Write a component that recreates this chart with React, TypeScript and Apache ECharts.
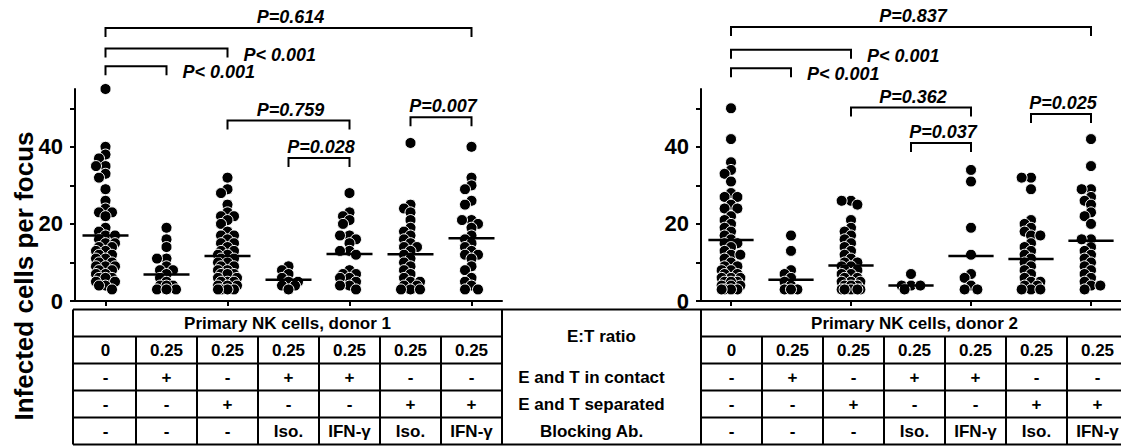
import React, { useEffect, useRef } from 'react';
import * as echarts from 'echarts';

const FONT = "'Liberation Sans', Arial, Helvetica, sans-serif";

// ---------- data ----------
const conditions = ['E:T 0', 'contact', 'separated', 'contact Iso.', 'contact IFN-γ', 'separated Iso.', 'separated IFN-γ'];

const donor1Group1 = [55, 40, 38, 37, 35, 35, 33, 32, 29, 26, 24, 23, 23, 22, 19, 18, 17, 17, 16, 15, 15, 14, 14, 13, 13, 12, 12, 11, 11, 10, 10, 9, 9, 9, 8, 8, 7, 7, 6, 6, 6, 5, 5, 4, 4, 3];
const donor1Group2 = [19, 16, 14, 11, 11, 9, 8, 8, 7, 6, 5, 4, 4, 4, 3, 3, 3];
const donor1Group3 = [32, 29, 28, 25, 23, 22, 22, 21, 20, 18, 17, 17, 16, 15, 15, 14, 13, 13, 12, 12, 11, 11, 10, 10, 9, 9, 8, 8, 7, 7, 7, 6, 6, 5, 5, 5, 4, 4, 4, 3, 3, 3, 3];
const donor1Group4 = [9, 8, 7, 6, 5, 5, 4, 4, 3];
const donor1Group5 = [28, 23, 22, 21, 20, 17, 17, 16, 15, 13, 13, 12, 8, 7, 7, 6, 6, 5, 4, 4, 3];
const donor1Group6 = [41, 25, 24, 23, 21, 19, 18, 17, 16, 15, 14, 14, 13, 12, 11, 10, 9, 8, 7, 6, 5, 5, 4, 4, 3, 3, 3];
const donor1Group7 = [40, 32, 30, 29, 26, 25, 21, 21, 20, 19, 17, 16, 15, 14, 13, 12, 12, 11, 9, 8, 6, 5, 4, 3, 3];

const donor2Group1 = [50, 42, 36, 34, 33, 31, 28, 27, 27, 25, 24, 24, 22, 21, 20, 19, 18, 17, 16, 15, 15, 14, 13, 12, 12, 11, 10, 9, 9, 8, 8, 7, 7, 6, 6, 6, 5, 5, 5, 4, 4, 4, 3, 3, 3, 3];
const donor2Group2 = [17, 13, 8, 7, 6, 5, 4, 3, 3, 3];
const donor2Group3 = [26, 26, 25, 21, 19, 18, 17, 16, 15, 14, 13, 12, 11, 10, 10, 9, 9, 8, 8, 7, 7, 6, 6, 5, 5, 5, 4, 4, 4, 3, 3, 3, 3, 3];
const donor2Group4 = [7, 4, 4, 4, 3];
const donor2Group5 = [34, 31, 19, 12, 7, 6, 4, 3, 3];
const donor2Group6 = [32, 32, 29, 21, 20, 19, 18, 17, 17, 15, 14, 13, 12, 11, 10, 9, 8, 7, 6, 5, 5, 4, 4, 3, 3, 3];
const donor2Group7 = [42, 35, 29, 29, 27, 26, 25, 23, 22, 20, 16, 16, 14, 13, 12, 11, 10, 9, 8, 7, 6, 5, 4, 4, 3];

const donor1Means = [17.0, 6.9, 11.7, 5.5, 12.2, 12.1, 16.3];
const donor2Means = [15.8, 5.5, 9.2, 4.0, 11.7, 10.9, 15.6];

const donor1Brackets = [
  { from: 0, to: 6, level: 70.8, label: 'P=0.614', place: 'top' },
  { from: 0, to: 2, level: 65.5, label: 'P< 0.001', place: 'right' },
  { from: 0, to: 1, level: 60.9, label: 'P< 0.001', place: 'right' },
  { from: 2, to: 4, level: 46.8, label: 'P=0.759', place: 'top' },
  { from: 3, to: 4, level: 37.1, label: 'P=0.028', place: 'top' },
  { from: 5, to: 6, level: 47.7, label: 'P=0.007', place: 'top' },
];
const donor2Brackets = [
  { from: 0, to: 6, level: 71.1, label: 'P=0.837', place: 'top' },
  { from: 0, to: 2, level: 65.2, label: 'P< 0.001', place: 'right' },
  { from: 0, to: 1, level: 60.4, label: 'P< 0.001', place: 'right' },
  { from: 2, to: 4, level: 50.2, label: 'P=0.362', place: 'top' },
  { from: 3, to: 4, level: 41.0, label: 'P=0.037', place: 'top' },
  { from: 5, to: 6, level: 48.5, label: 'P=0.025', place: 'top' },
];

const yMax = 55;
const yTickValues = [0, 10, 20, 30, 40, 50];
const yLabelValues = [0, 20, 40];
const yTitle = 'Infected cells per focus';

const donorLabels = ['Primary NK cells, donor 1', 'Primary NK cells, donor 2'];
const etRatio = ['0', '0.25', '0.25', '0.25', '0.25', '0.25', '0.25'];
const inContact = ['-', '+', '-', '+', '+', '-', '-'];
const separated = ['-', '-', '+', '-', '-', '+', '+'];
const blockingAb = ['-', '-', '-', 'Iso.', 'IFN-γ', 'Iso.', 'IFN-γ'];
const rowLabels = ['E:T ratio', 'E and T in contact', 'E and T separated', 'Blocking Ab.'];

// ---------- layout ----------
const GRID_TOP = 89;
const GRID_H = 212;
const GRID_W = 427;
const GRID_LEFTS = [75, 701];
const NCAT = 7;
const BAND = GRID_W / NCAT;
const PX_Y = GRID_H / yMax;
const TABLE_TOP = 309.5;
const ROW_H = 27;

function swarm(values: number[], gi: number): number[][] {
  const placed: { dx: number; py: number }[] = [];
  const out: number[][] = [];
  const steps = [0, -6.5, 6.5, -9.5, 9.5];
  const minDist = 7.5;
  const sorted = values.slice().sort((a, b) => b - a);
  for (const v of sorted) {
    const py = v * PX_Y;
    let best = 0;
    let bestD = -1;
    for (const s of steps) {
      let d = Infinity;
      for (const p of placed) {
        const dd = Math.hypot(p.dx - s, p.py - py);
        if (dd < d) d = dd;
      }
      if (d >= minDist) { best = s; bestD = d; break; }
      if (d > bestD) { bestD = d; best = s; }
    }
    placed.push({ dx: best, py });
    out.push([gi + 0.5 + best / BAND, v]);
  }
  return out;
}

const donorGroups = [
  [donor1Group1, donor1Group2, donor1Group3, donor1Group4, donor1Group5, donor1Group6, donor1Group7],
  [donor2Group1, donor2Group2, donor2Group3, donor2Group4, donor2Group5, donor2Group6, donor2Group7],
];
const donorMeans = [donor1Means, donor2Means];
const donorBrackets = [donor1Brackets, donor2Brackets];

function buildOption() {
  const grid = GRID_LEFTS.map((l) => ({ left: l, top: GRID_TOP, width: GRID_W, height: GRID_H }));
  const xAxis: any[] = [];
  const yAxis: any[] = [];
  const series: any[] = [];
  GRID_LEFTS.forEach((_, gi) => {
    xAxis.push({
      type: 'category', gridIndex: gi, data: conditions, boundaryGap: true,
      axisLine: { show: true, onZero: false, lineStyle: { color: '#000', width: 2 } },
      axisTick: { show: true, alignWithLabel: true, length: 5, lineStyle: { color: '#000', width: 2 } },
      axisLabel: { show: false }, splitLine: { show: false },
    });
    xAxis.push({ type: 'value', gridIndex: gi, min: 0, max: NCAT, show: false, splitLine: { show: false } });
    yAxis.push({
      type: 'value', gridIndex: gi, min: 0, max: yMax,
      axisLine: { show: true, onZero: false, lineStyle: { color: '#000', width: 2 } },
      axisTick: { show: true, length: 5, customValues: yTickValues, lineStyle: { color: '#000', width: 2 } },
      axisLabel: { customValues: yLabelValues, color: '#000', fontFamily: FONT, fontWeight: 'bold', fontSize: 22, margin: 12 },
      splitLine: { show: false },
    });
    const points: number[][] = [];
    donorGroups[gi].forEach((vals, k) => { swarm(vals, k).forEach((p) => points.push(p)); });
    series.push({
      type: 'scatter', xAxisIndex: gi * 2 + 1, yAxisIndex: gi, data: points, symbolSize: 11, clip: false, z: 3,
      itemStyle: { color: '#000', borderColor: '#fff', borderWidth: 1, opacity: 1 }, silent: true,
    });
    series.push({
      type: 'custom', xAxisIndex: gi * 2 + 1, yAxisIndex: gi, z: 4, silent: true, clip: false,
      data: donorMeans[gi].map((m, k) => [k + 0.5, m]),
      encode: { x: 0, y: 1 },
      renderItem: (params: any, api: any) => {
        const a = api.coord([api.value(0) - 0.377, api.value(1)]);
        const b = api.coord([api.value(0) + 0.377, api.value(1)]);
        return { type: 'line', shape: { x1: a[0], y1: a[1], x2: b[0], y2: b[1] }, style: { stroke: '#000', lineWidth: 2.5, fill: 'none' } };
      },
    });
    const list = donorBrackets[gi];
    series.push({
      type: 'custom', xAxisIndex: gi * 2 + 1, yAxisIndex: gi, z: 5, silent: true, clip: false,
      data: list.map((b) => [b.from + 0.5, b.to + 0.5, b.level]),
      encode: { x: [0, 1], y: 2 },
      renderItem: (params: any, api: any) => {
        const b = list[params.dataIndex];
        const p1 = api.coord([api.value(0), api.value(2)]);
        const p2 = api.coord([api.value(1), api.value(2)]);
        const leg = 9;
        const isTop = b.place === 'top';
        return {
          type: 'group',
          children: [
            { type: 'polyline', shape: { points: [[p1[0], p1[1] + leg], [p1[0], p1[1]], [p2[0], p2[1]], [p2[0], p2[1] + leg]] }, style: { stroke: '#000', lineWidth: 2, fill: 'none' } },
            {
              type: 'text',
              x: isTop ? (p1[0] + p2[0]) / 2 + 2 : p2[0] + 16,
              y: isTop ? p1[1] - 11 : p1[1] + 6,
              style: { text: b.label, fill: '#000', font: `italic bold 18px ${FONT}`, align: isTop ? 'center' : 'left', verticalAlign: 'middle' },
            },
          ],
        };
      },
    });
  });

  // table graphics
  const g: any[] = [];
  const ln = (x1: number, y1: number, x2: number, y2: number) =>
    g.push({ type: 'line', shape: { x1, y1, x2, y2 }, style: { stroke: '#000', lineWidth: 2 }, silent: true });
  const tx = (text: string, x: number, y: number, size = 17) =>
    g.push({ type: 'text', x, y, silent: true, style: { text, fill: '#000', font: `bold ${size}px ${FONT}`, align: 'center', verticalAlign: 'middle' } });

  const bottom = TABLE_TOP + 5 * ROW_H;
  const leftEdge = GRID_LEFTS[0] - 2;
  const rightEdge = GRID_LEFTS[1] + GRID_W;
  ln(leftEdge, TABLE_TOP, rightEdge, TABLE_TOP);
  ln(leftEdge, bottom, rightEdge, bottom);
  const rows = [etRatio, inContact, separated, blockingAb];
  GRID_LEFTS.forEach((gl, gi) => {
    const x0 = gi === 0 ? leftEdge : gl;
    const xr = gl + GRID_W;
    for (let r = 1; r < 5; r++) ln(x0, TABLE_TOP + r * ROW_H, xr, TABLE_TOP + r * ROW_H);
    ln(x0, TABLE_TOP, x0, bottom);
    ln(xr, TABLE_TOP, xr, bottom);
    for (let k = 1; k < NCAT; k++) ln(gl + k * BAND, TABLE_TOP + ROW_H, gl + k * BAND, bottom);
    tx(donorLabels[gi], (x0 + xr) / 2, TABLE_TOP + ROW_H / 2);
    rows.forEach((row, ri) => {
      row.forEach((t, k) => tx(t, gl + (k + 0.5) * BAND, TABLE_TOP + (ri + 1.5) * ROW_H));
    });
  });
  const midX = (GRID_LEFTS[0] + GRID_W + GRID_LEFTS[1]) / 2;
  tx(rowLabels[0], midX, TABLE_TOP + ROW_H);
  for (let r = 1; r < 4; r++) tx(rowLabels[r], midX - 10, TABLE_TOP + (r + 1.5) * ROW_H);

  g.push({
    type: 'text', x: 24, y: 276, rotation: Math.PI / 2, silent: true,
    style: { text: yTitle, fill: '#000', font: `bold 26px ${FONT}`, align: 'center', verticalAlign: 'middle' },
  });

  return { animation: false, backgroundColor: '#fff', grid, xAxis, yAxis, series, graphic: { elements: g } };
}

export default function App() {
  const ref = useRef<HTMLDivElement>(null);
  useEffect(() => {
    document.body.style.margin = '0';
    if (!ref.current) return;
    const chart = echarts.init(ref.current, null, { renderer: 'svg' });
    chart.setOption(buildOption() as any);
    return () => chart.dispose();
  }, []);
  return <div ref={ref} style={{ width: 1121, height: 447 }} />;
}
